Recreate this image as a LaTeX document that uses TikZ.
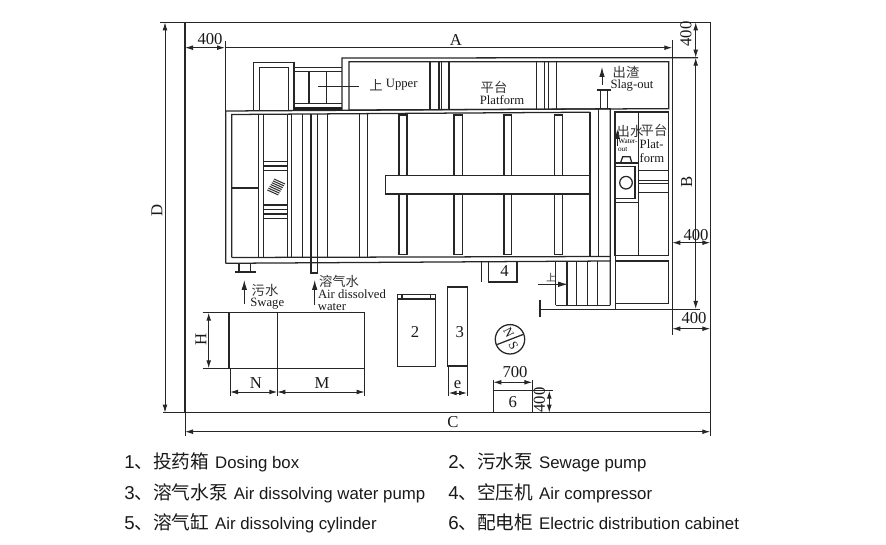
\documentclass[tikz,border=0pt]{standalone}
\usepackage{fontspec}
\setmainfont{Liberation Serif}
\newfontfamily\cjk{Noto Sans CJK SC}
\newfontfamily\arialf{Liberation Sans}
\usetikzlibrary{arrows.meta}
\newcommand{\lbsize}{\fontsize{9.5pt}{10.5pt}\selectfont}
\newcommand{\numsize}{\fontsize{12.5pt}{14pt}\selectfont}
\newcommand{\cnsize}{\fontsize{10pt}{11pt}\selectfont\cjk}
\newcommand{\legrow}[3]{{\arialf\fontsize{14pt}{16pt}\selectfont #1}{\cjk\fontsize{14pt}{16pt}\selectfont 、#2}\hspace{4.4pt}{\arialf\fontsize{12.6pt}{15pt}\selectfont #3}}
\tikzset{
  ln/.style={draw=black!85,line width=0.95pt},
  thin ln/.style={draw=black!85,line width=0.7pt},
  dimboth/.style={thin ln,{Latex[length=6pt,width=3.6pt]}-{Latex[length=6pt,width=3.6pt]}},
  dimend/.style={thin ln,-{Latex[length=6pt,width=3.6pt]}},
  flow/.style={thin ln,-{Latex[length=7.5pt,width=4.2pt]}},
  num/.style={inner sep=0pt,font=\numsize,text=black!90},
  lb/.style={inner sep=0pt,font=\lbsize,text=black!90},
  cn/.style={inner sep=0pt,font=\cnsize,text=black!80},
  leg/.style={inner sep=0pt,anchor=base west,text=black!90}
}
\begin{document}
\begin{tikzpicture}[x=0.75pt,y=-0.75pt]
\useasboundingbox (0,0) rectangle (886,545);
% site frame
\draw[ln] (185,22.3) rectangle (710.3,412.7);
% top-left tower and stair
\draw[ln] (253.7,111) -- (253.7,62.3) -- (294,62.3) -- (294,111);
\draw[ln] (259.3,111) -- (259.3,67.7) -- (288.3,67.7) -- (288.3,111);
\draw[ln] (294,67.3) -- (342,67.3) (294,71.3) -- (342,71.3);
\draw[ln] (309,71.3) -- (309,103.5) (326.7,71.3) -- (326.7,103.5);
\draw[ln] (294,103.5) -- (342,103.5);
\fill[black!88] (294,106.7) rectangle (342,110.8);
\draw[thin ln] (318.3,86.7) -- (359.3,86.7);
% upper platform
\draw[ln] (342,111) -- (342,58) -- (698,57.7);
\draw[ln] (349,110) -- (349,61.7) -- (668.7,61.7) -- (668.7,108.7) -- (349,110);
\foreach \xx in {430,439,441.6,449,536.7,544.3,548.7,556.7}{\draw[ln] (\xx,61.7) -- (\xx,109.5);}
\draw[flow] (602,85) -- (602,67);
\draw[ln] (600.3,90) -- (600.3,108.7) (607.3,90) -- (607.3,108.7);
\draw[ln] (596.7,90) -- (611,90);
% main tank
\draw[ln] (225.7,263.3) -- (225.7,111) -- (610.3,108.8) -- (610.3,305.3);
\draw[ln] (225.7,263.3) -- (610.3,261);
\draw[ln] (231.7,257.5) -- (231.7,114.5) -- (590,112.2);
\draw[ln] (231.7,257.5) -- (610.3,256.5);
\draw[ln] (231.7,188) -- (258.3,188);
\foreach \xx in {258.3,263.3,287.7,291.4,302.4,311,317.5,327.7,359.3,367.3}{\draw[ln] (\xx,114.3) -- (\xx,257.3);}
\draw[ln] (590,112.2) -- (590,256.5) (598.3,109) -- (598.3,256.5);
\foreach \yy in {161.5,166,170.5,205,209.5,214,218.3}{\draw[ln] (263.3,\yy) -- (287.7,\yy);}
\foreach \t in {0,1,...,6}{\draw[line width=0.8pt,black!80] ({274-\t*1.11},{179+\t*1.83}) -- ++(11,5);}
% beams
\draw[ln] (385.3,175.7) -- (590,175.7) (385.3,194) -- (590,194) (385.3,175.7) -- (385.3,194);
\foreach \xa/\xb in {399/407,454/462.3,504/511.7,554.7/562.3}{
  \draw[ln] (\xa,175.7) -- (\xa,115) -- (\xb,115) -- (\xb,175.7);
  \draw[ln] (\xa,194) -- (\xa,254.3) -- (\xb,254.3) -- (\xb,194);
}
% feet
\draw[ln] (239,263) -- (239,272) (250.7,263) -- (250.7,272) (235,272) -- (256,272);
\draw[ln] (311,257) -- (311,273) -- (317.7,273) -- (317.7,257);
% right hand compartment
\draw[ln] (615,112) rectangle (668.7,255.3);
\draw[ln] (638.3,112) -- (638.3,255.3);
\draw[ln] (615,163) -- (638.3,163);
\draw[ln] (615,166.7) -- (635,166.7) -- (635,198.3) -- (615,198.3);
\draw[ln] (626,182.7) circle (6.3);
\draw[ln] (615,202.3) -- (638.3,202.3);
\foreach \yy in {170.7,180.7,183.3,192.7}{\draw[ln] (638.3,\yy) -- (668.7,\yy);}
\draw[ln] (620.7,162.5) -- (622.7,156.7) -- (630,156.7) -- (631.7,162.5);
\draw[flow] (617.3,146) -- (617.3,129);
\draw[ln] (615.5,255.3) -- (615.5,310);
\draw[ln] (615.7,261) rectangle (668.7,303.7);
% stair at the bottom
\draw[ln] (555.7,305.3) -- (610.3,305.3);
\foreach \xx in {555.7,567,576.7,587.3,597.3}{\draw[ln] (\xx,261) -- (\xx,305.3);}
\draw[ln] (540,309.5) -- (700,309.5);
\draw[ln] (540,300) -- (540,316.7);
\draw[flow] (537.7,284.3) -- (568,284.3);
% box 4
\draw[ln] (488.3,261) -- (488.3,282) -- (517,282) -- (517,261);
\draw[ln] (481.3,261) -- (481.3,282.5);
% equipment boxes
\draw[ln] (229,312.7) rectangle (364.3,368.3);
\draw[ln] (277.3,312.7) -- (277.3,368.3);
\draw[ln] (397.7,294.3) rectangle (435.3,366.7);
\draw[ln] (397.7,299) -- (435.3,299) (402,294.3) -- (402,299) (430.7,294.3) -- (430.7,299);
\draw[ln] (447.7,287) rectangle (467.7,366);
\draw[ln] (493.3,390.7) rectangle (532.3,412.7);
% compass
\draw[ln] (510,339.3) circle (14.7);
\draw[ln] (497.2,344.5) -- (523,334.5);
\node[lb,rotate=-62] (compassN) at (508.6,333) {N};
\node[lb,rotate=-62] (compassS) at (513.3,345.5) {S};
% process arrows
\draw[flow] (244.3,304) -- (244.3,280);
\draw[flow] (314.7,304.7) -- (314.7,280);
% dimensions
\draw[thin ln] (160,22.3) -- (185,22.3) (163,412.7) -- (185,412.7);
\draw[dimboth] (165,22.3) -- (165,412.7);
\draw[thin ln] (225,41) -- (225,111);
\draw[dimboth] (185,47.7) -- (225,47.7);
\draw[dimend] (225,47.7) -- (672.3,47.7);
\draw[thin ln] (672.3,40) -- (672.3,335);
\draw[dimboth] (695.7,22.3) -- (695.7,57.7);
\draw[dimboth] (695.7,57.7) -- (695.7,309);
\draw[dimboth] (672.3,242.7) -- (710.3,242.7);
\draw[dimboth] (672.3,328.7) -- (710.3,328.7);
\draw[thin ln] (185,412.7) -- (185,435.7) (710.3,412.7) -- (710.3,436);
\draw[dimboth] (185,431.7) -- (710.3,431.7);
\draw[thin ln] (202.7,312.7) -- (229,312.7) (202.7,368.3) -- (229,368.3);
\draw[dimboth] (208.7,312.7) -- (208.7,368.3);
\draw[thin ln] (230,368.3) -- (230,396.3) (277.3,368.3) -- (277.3,396.3) (364.7,368.3) -- (364.7,396.3);
\draw[dimboth] (230,392) -- (277.3,392);
\draw[dimboth] (277.3,392) -- (364.7,392);
\draw[thin ln] (448.7,366) -- (448.7,395.7) (467,366) -- (467,395.7);
\draw[dimboth] (448.7,393) -- (467,393);
\draw[thin ln] (493.3,380) -- (493.3,390.7) (532.3,380) -- (532.3,390.7);
\draw[dimboth] (493.3,382.3) -- (532.3,382.3);
\draw[thin ln] (532.3,390.7) -- (553,390.7);
\draw[dimboth] (549.3,390.7) -- (549.3,412.7);
% dimension labels
\node[num] (t400a) at (210,39.5) {400};
\node[num] (tA) at (456,40) {A};
\node[num,rotate=90] (t400b) at (686,34) {400};
\node[num,rotate=90] (tB) at (686.7,181.7) {B};
\node[num] (t400c) at (696,235) {400};
\node[num] (t400d) at (694,318.5) {400};
\node[num,rotate=90] (tD) at (157,210) {D};
\node[num] (tC) at (453,422) {C};
\node[num,rotate=90] (tH) at (201,339.3) {H};
\node[num] (tN) at (256,382.7) {N};
\node[num] (tM) at (322,382.7) {M};
\node[num] (te) at (457.5,384.5) {e};
\node[num] (t700) at (515,372) {700};
\node[num,rotate=90] (t400e) at (539.3,400) {400};
\node[num] (n2) at (415,332) {2};
\node[num] (n3) at (459.7,332) {3};
\node[num] (n4) at (504.5,271) {4};
\node[num] (n6) at (512.7,402) {6};
% labels
\node[cn] (tup) at (376,85.5) {上};
\node[lb] (tupper) at (401.7,85) {Upper};
\node[cn] (tpt) at (494,87) {平台};
\node[lb] (tplat) at (502,100) {Platform};
\node[cn] (tcz) at (626,72) {出渣};
\node[lb] (tslag) at (632,85) {Slag-out};
\node[cn] (tcs) at (630,131) {出水};
\node[cn] (tpt2) at (654,130) {平台};
\node[inner sep=0pt,font=\fontsize{5.4pt}{6pt}\selectfont] (twater) at (628,141) {Water-};
\node[inner sep=0pt,font=\fontsize{5.4pt}{6pt}\selectfont] (tout) at (622.7,150) {out};
\node[lb] (tplatb) at (651.7,144) {Plat-};
\node[lb] (tform) at (652,157.7) {form};
\node[cn] (tws) at (265,290) {污水};
\node[lb] (tswage) at (267.3,304) {Swage};
\node[cn] (trq) at (339,281) {溶气水};
\node[lb] (tair) at (352,294) {Air dissolved};
\node[lb] (twat) at (332,307) {water};
\node[cn,font=\fontsize{7.5pt}{8pt}\selectfont\cjk] (tup2) at (551,278) {上};
% legend
\node[leg] (l1) at (124,469) {\legrow{1}{投药箱}{Dosing box}};
\node[leg] (l2) at (448,469) {\legrow{2}{污水泵}{Sewage pump}};
\node[leg] (l3) at (124,499.5) {\legrow{3}{溶气水泵}{Air dissolving water pump}};
\node[leg] (l4) at (448,499.5) {\legrow{4}{空压机}{Air compressor}};
\node[leg] (l5) at (124,529) {\legrow{5}{溶气缸}{Air dissolving cylinder}};
\node[leg] (l6) at (448,529) {\legrow{6}{配电柜}{Electric distribution cabinet}};
\end{tikzpicture}
\end{document}
